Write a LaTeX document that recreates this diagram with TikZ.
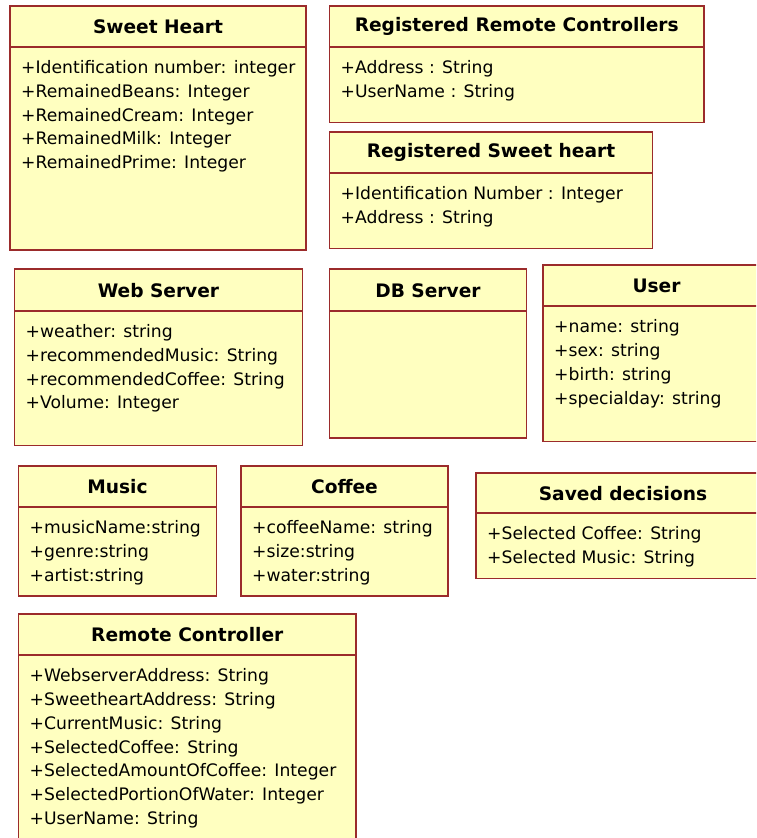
\documentclass[tikz,border=0pt]{standalone}
\usepackage{fontspec}
\setmainfont{DejaVu Sans}
\definecolor{umlfill}{HTML}{FFFFC0}
\definecolor{umlline}{HTML}{9B2B2B}
\tikzset{
  classbox/.style={draw=umlline, fill=umlfill, line width=1.6pt},
  classline/.style={draw=umlline, line width=1.6pt},
  titletext/.style={inner sep=0pt, font=\fontsize{18.6}{22}\selectfont\bfseries},
  attrtext/.style={inner sep=0pt, anchor=mid west, font=\fontsize{17.2}{21}\selectfont},
}
\newcommand\umlclass[8]{%
  \draw[classbox] (#2,#3) rectangle (#4,#5);
  \draw[classline] (#2,#6) -- (#4,#6);
  \node[titletext] (#1-title) at ({(#2+#4)/2},{(#3+#6)/2+0.5}) {#7};
  \foreach \t [count=\i] in {#8} {
    \node[attrtext] (#1-a\i) at ({#2+11},{#6+24+23.8*(\i-1)}) {\t};
  }%
}
\begin{document}
\begin{tikzpicture}[x=1pt,y=-1pt]
\useasboundingbox (0,0) rectangle (756,838);
\clip (0,0) rectangle (756,838);
\umlclass{sh}{10}{6}{306}{250}{46.7}{Sweet Heart}{+Identification number: integer,+RemainedBeans: Integer,+RemainedCream: Integer,+RemainedMilk: Integer,+RemainedPrime: Integer}
\umlclass{rrc}{329.5}{6}{704}{122.5}{46.7}{Registered Remote Controllers}{+Address : String,+UserName : String}
\umlclass{rsh}{329.5}{132}{652.5}{248.5}{172.7}{Registered Sweet heart}{+Identification Number : Integer,+Address : String}
\umlclass{ws}{14.5}{269}{302.5}{445.5}{310.7}{Web Server}{+weather: string,+recommendedMusic: String,+recommendedCoffee: String,+Volume: Integer}
\umlclass{db}{329.5}{269}{526.5}{438}{310.7}{DB Server}{}
\umlclass{user}{543}{265}{770}{441.5}{306}{User}{+name: string,+sex: string,+birth: string,+specialday: string}
\umlclass{music}{18.5}{466}{216.5}{596}{507}{Music}{+musicName:string,+genre:string,+artist:string}
\umlclass{coffee}{241}{466}{448}{596}{507}{Coffee}{+coffeeName: string,+size:string,+water:string}
\umlclass{saved}{476}{473}{770}{578.5}{513}{Saved decisions}{+Selected Coffee: String,+Selected Music: String}
\umlclass{rc}{18.5}{614}{356}{860}{655}{Remote Controller}{+WebserverAddress: String,+SweetheartAddress: String,+CurrentMusic: String,+SelectedCoffee: String,+SelectedAmountOfCoffee: Integer,+SelectedPortionOfWater: Integer,+UserName: String}
\end{tikzpicture}
\end{document}
